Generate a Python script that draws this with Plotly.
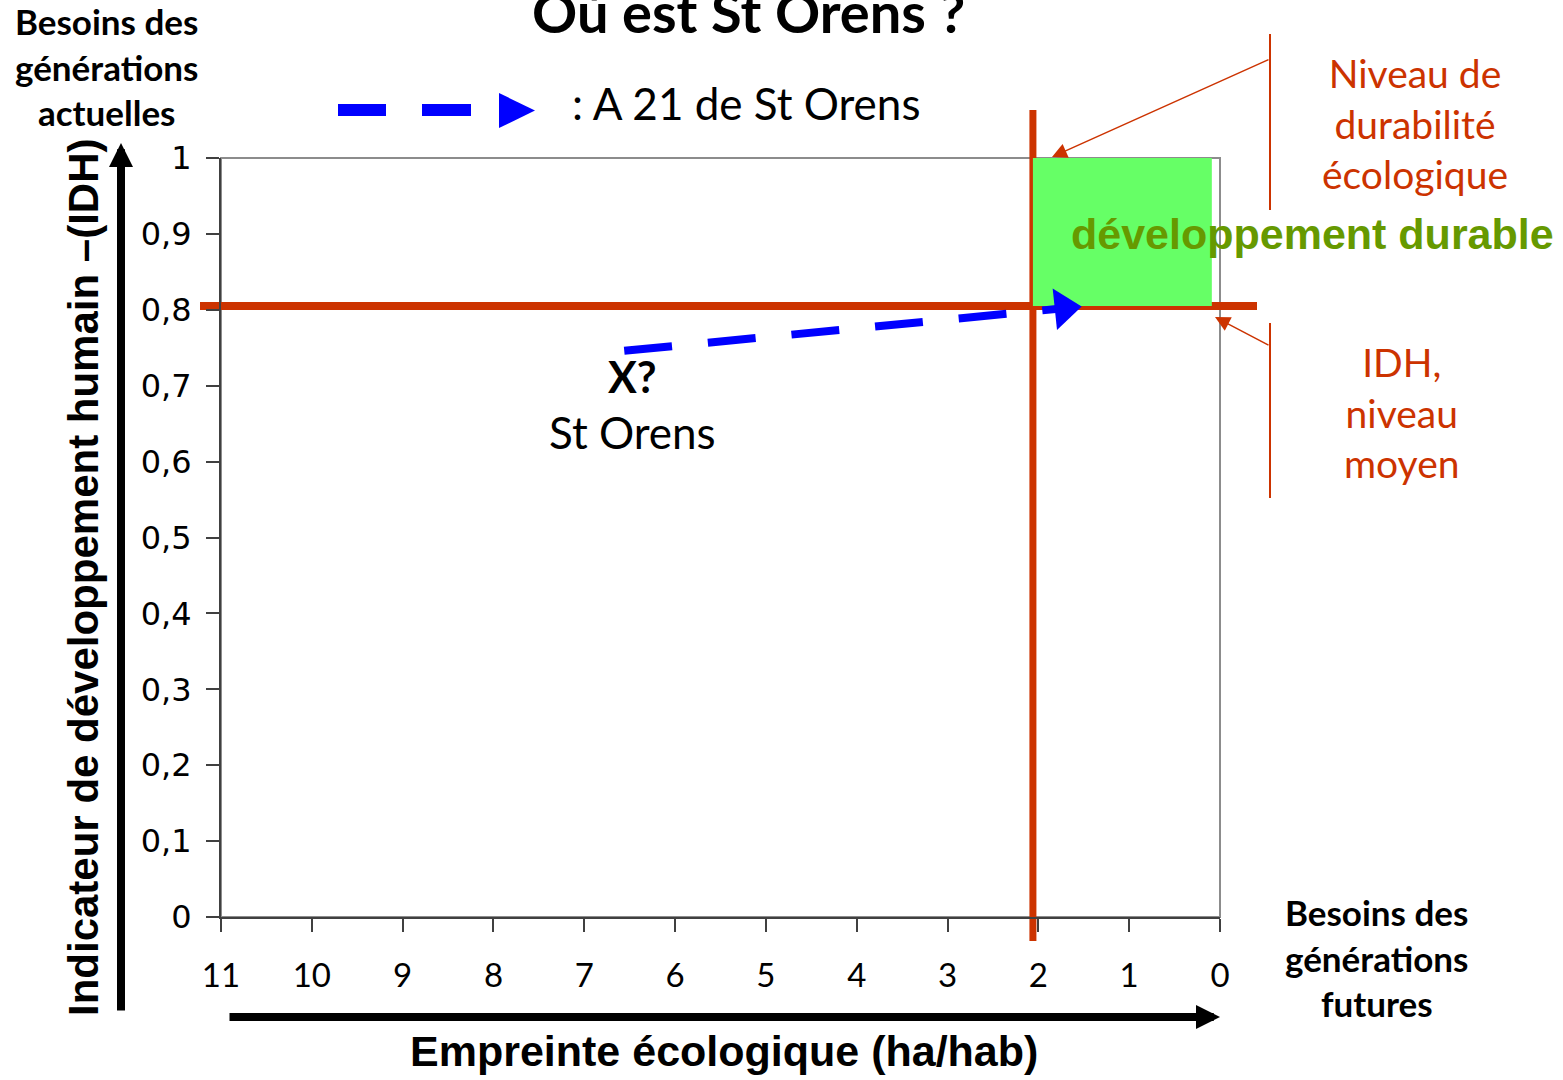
import plotly.graph_objects as go

# ---------------- data ----------------
x_tick_vals = [11, 10, 9, 8, 7, 6, 5, 4, 3, 2, 1, 0]
x_tick_text = ["11", "10", "9", "8", "7", "6", "5", "4", "3", "2", "1", "0"]
y_tick_vals = [0, 0.1, 0.2, 0.3, 0.4, 0.5, 0.6, 0.7, 0.8, 0.9, 1]
y_tick_text = ["0", "0,1", "0,2", "0,3", "0,4", "0,5", "0,6", "0,7", "0,8", "0,9", "1"]

footprint_limit = 2.06      # niveau de durabilité écologique (ha/hab)
idh_limit = 0.805           # IDH, niveau moyen
green_zone_x = [0.09, 2.06]
green_zone_y = [0.805, 1.0]

a21_x = [6.56, 1.72]        # A 21 de St Orens (départ -> arrivée)
a21_y = [0.746, 0.802]

# ---------------- layout helpers ----------------
W, H = 1563, 1080
L, R, T, B = 221, 343, 158, 163
PW, PH = W - L - R, H - T - B
X_MAX = 11.0


def px(p):
    return (p - L) / PW


def py(p):
    return (H - B - p) / PH


def dx(v):
    return (X_MAX - v) / X_MAX


ORANGE = "#cc3300"
BLUE = "#0000ff"
CAL = "Lato"
ARIAL = "Liberation Sans"

fig = go.Figure()

fig.add_trace(go.Scatter(
    x=a21_x, y=a21_y, mode="lines+markers",
    line=dict(color=BLUE, width=8, dash="48px,36px"),
    marker=dict(size=[0, 36], symbol="triangle-right", color=BLUE, angle=-6,
                opacity=1, line=dict(width=0)),
    opacity=1, cliponaxis=False, showlegend=False, hoverinfo="skip",
))

shapes = []
# plot frame (gray)
shapes.append(dict(type="rect", xref="paper", yref="paper", x0=0, x1=1, y0=0, y1=1,
                   line=dict(color="#8c8c8c", width=2), layer="below"))
# green zone
shapes.append(dict(type="rect", xref="x", yref="y",
                   x0=green_zone_x[0], x1=green_zone_x[1], y0=green_zone_y[0], y1=green_zone_y[1],
                   fillcolor="#66ff66", line=dict(width=0), layer="below"))
# threshold lines
shapes.append(dict(type="line", xref="paper", yref="paper",
                   x0=dx(footprint_limit), x1=dx(footprint_limit), y0=py(941), y1=py(110),
                   line=dict(color=ORANGE, width=7), layer="below"))
shapes.append(dict(type="line", xref="paper", yref="paper",
                   x0=px(200), x1=px(1257), y0=idh_limit, y1=idh_limit,
                   line=dict(color=ORANGE, width=8), layer="below"))
# callout brackets
shapes.append(dict(type="line", xref="paper", yref="paper", x0=px(1270), x1=px(1270),
                   y0=py(34), y1=py(210), line=dict(color=ORANGE, width=2)))
shapes.append(dict(type="line", xref="paper", yref="paper", x0=px(1270), x1=px(1270),
                   y0=py(323), y1=py(498), line=dict(color=ORANGE, width=2)))
# legend sample
shapes.append(dict(type="line", xref="paper", yref="paper", x0=px(338), x1=px(386),
                   y0=py(110), y1=py(110), line=dict(color=BLUE, width=12)))
shapes.append(dict(type="line", xref="paper", yref="paper", x0=px(422), x1=px(471),
                   y0=py(110), y1=py(110), line=dict(color=BLUE, width=12)))
shapes.append(dict(type="path", xref="paper", yref="paper",
                   path=f"M {px(499)},{py(93)} L {px(499)},{py(128)} L {px(535)},{py(110.5)} Z",
                   fillcolor=BLUE, line=dict(width=0)))

ann = []


def text(t, x, y, size, family=CAL, color="black", xanchor="center", angle=0):
    ann.append(dict(text=t, x=px(x), y=py(y), xref="paper", yref="paper", showarrow=False,
                    xanchor=xanchor, yanchor="middle", textangle=angle,
                    font=dict(family=family, size=size, color=color)))


text("<b>Où est St Orens ?</b>", 748, 11, 56)
text("<b>Besoins des<br>générations<br>actuelles</b>", 106, 66, 35)
text("<b>Besoins des<br>générations<br>futures</b>", 1376, 957, 35)
text("Niveau de<br>durabilité<br>écologique", 1415, 124, 39, color=ORANGE)
text("IDH,<br>niveau<br>moyen", 1401, 412, 39, color=ORANGE)
text("<b>développement durable</b>", 1312, 234, 43, family=ARIAL, color="#669900")
text("<b>X?</b>", 632, 376, 43)
text("St Orens", 632, 432, 44)
text(": A 21 de St Orens", 570, 103, 44, xanchor="left")
text("<b>Empreinte écologique (ha/hab)</b>", 724, 1051, 43, family=ARIAL)
text("<b>Indicateur de développement humain –(IDH)</b>", 83, 578, 42, family=ARIAL, angle=-90)


def arrow(hx, hy, tx, ty, color, width, size, head=2):
    ann.append(dict(text="", x=px(hx), y=py(hy), xref="paper", yref="paper",
                    ax=tx - hx, ay=ty - hy, axref="pixel", ayref="pixel",
                    showarrow=True, arrowhead=head, arrowsize=size, arrowwidth=width,
                    arrowcolor=color))


# big black axis arrows
arrow(1220, 1017, 228, 1017, "black", 8, 0.6)
arrow(121, 143, 121, 1012, "black", 8, 0.6)
# orange callout arrows
arrow(1052, 157, 1270, 59, ORANGE, 1.5, 2)
arrow(1215, 317, 1270, 346, ORANGE, 1.5, 2)

fig.update_layout(
    width=W, height=H, autosize=False,
    margin=dict(l=L, r=R, t=T, b=B, pad=0),
    paper_bgcolor="white", plot_bgcolor="white",
    separators=", ",
    showlegend=False,
    shapes=shapes, annotations=ann,
    xaxis=dict(range=[X_MAX, 0], tickmode="array", tickvals=x_tick_vals, ticktext=x_tick_text,
               ticks="outside", ticklen=13, tickwidth=2, tickcolor="#404040",
               showline=True, linecolor="#404040", linewidth=2,
               showgrid=False, zeroline=False, ticklabelstandoff=15,
               tickfont=dict(family=CAL, size=33, color="black")),
    yaxis=dict(range=[0, 1], tickmode="array", tickvals=y_tick_vals, ticktext=y_tick_text,
               ticks="outside", ticklen=13, tickwidth=2, tickcolor="#404040",
               showline=True, linecolor="#404040", linewidth=2,
               showgrid=False, zeroline=False, ticklabelstandoff=8,
               tickfont=dict(family="DejaVu Sans", size=32, color="black")),
)

fig.write_html("out.html", config={"displayModeBar": False},
               post_script="document.body.style.margin='0';")
